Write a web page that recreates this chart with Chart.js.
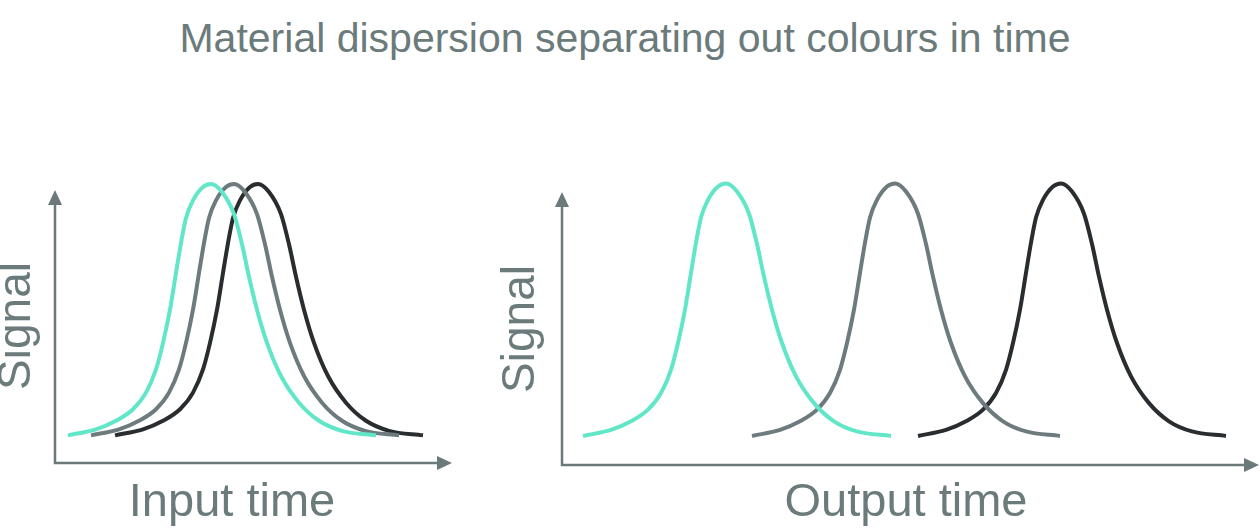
<!DOCTYPE html>
<html>
<head>
<meta charset="utf-8">
<script src="https://cdn.jsdelivr.net/npm/chart.js@4.4.1/dist/chart.umd.min.js"></script>
<style>
html,body{margin:0;padding:0;background:#ffffff;width:1260px;height:532px;overflow:hidden;position:relative;}
#title{position:absolute;left:0;top:18px;width:1250px;text-align:center;font-family:"Liberation Sans",Arial,sans-serif;font-size:41px;line-height:41px;color:#6b7a7b;white-space:nowrap;}
#inputChart{position:absolute;left:-10px;top:0;}
#outputChart{position:absolute;left:470px;top:0;}
</style>
</head>
<body>
<div id="title">Material dispersion separating out colours in time</div>
<canvas id="inputChart" width="470" height="532"></canvas>
<canvas id="outputChart" width="790" height="532"></canvas>
<script>
// Signal level of each pulse sample (same pulse shape for every colour)
const pulseSignal = [0, 0.024, 0.058, 0.104, 0.170, 0.262, 0.368, 0.500, 0.646, 0.765, 0.865, 0.935, 0.988, 1, 0.968, 0.880, 0.760, 0.631, 0.500, 0.368, 0.236, 0.130, 0.058, 0.018, 0];

// Input time samples (left panel)
const inputTimeCyan  = [1.3, 4.1, 6.1, 7.8, 9.1, 10.1, 10.8, 11.5, 12.1, 12.6, 13.1, 13.8, 14.8, 15.6, 16.7, 17.9, 18.7, 19.4, 20.2, 21.2, 22.6, 24.4, 26.4, 28.7, 32.1];
const inputTimeGrey  = [3.6, 6.4, 8.4, 10.1, 11.4, 12.4, 13.1, 13.8, 14.4, 14.9, 15.4, 16.1, 17.1, 17.9, 19.0, 20.2, 21.0, 21.7, 22.5, 23.5, 24.9, 26.7, 28.7, 31.0, 34.4];
const inputTimeBlack = [6.0, 8.8, 10.8, 12.5, 13.8, 14.8, 15.5, 16.2, 16.8, 17.3, 17.8, 18.5, 19.5, 20.3, 21.4, 22.6, 23.4, 24.1, 24.9, 25.9, 27.3, 29.1, 31.1, 33.4, 36.8];

// Output time samples (right panel)
const outputTimeCyan  = [2.1, 4.9, 6.9, 8.6, 9.9, 10.9, 11.6, 12.3, 12.9, 13.4, 13.9, 14.6, 15.6, 16.4, 17.5, 18.7, 19.5, 20.2, 21.0, 22.0, 23.4, 25.2, 27.2, 29.5, 32.9];
const outputTimeGrey  = [19.0, 21.8, 23.8, 25.5, 26.8, 27.8, 28.5, 29.2, 29.8, 30.3, 30.8, 31.5, 32.5, 33.3, 34.4, 35.6, 36.4, 37.1, 37.9, 38.9, 40.3, 42.1, 44.1, 46.4, 49.8];
const outputTimeBlack = [35.6, 38.4, 40.4, 42.1, 43.4, 44.4, 45.1, 45.8, 46.4, 46.9, 47.4, 48.1, 49.1, 49.9, 51.0, 52.2, 53.0, 53.7, 54.5, 55.5, 56.9, 58.7, 60.7, 63.0, 66.4];

// Labels
const mainTitle = 'Material dispersion separating out colours in time';
const yLabel = 'Signal';
const inputLabel = 'Input time';
const outputLabel = 'Output time';

const COL_CYAN = '#62e6c8';
const COL_GREY = '#6e7b7e';
const COL_BLACK = '#2a2d2f';
const COL_AXIS = '#6b797a';
const COL_TEXT = '#6b7a7b';
const FONT = '"Liberation Sans", Arial, Helvetica, sans-serif';

Chart.defaults.font.family = FONT;

function series(times, color) {
  return {
    data: times.map((t, i) => ({x: t, y: pulseSignal[i]})),
    borderColor: color,
    backgroundColor: color,
    borderWidth: 4,
    pointRadius: 0,
    pointHoverRadius: 0,
    fill: false,
    cubicInterpolationMode: 'monotone',
    clip: false,
    borderCapStyle: 'butt'
  };
}

const axisArrows = {
  id: 'axisArrows',
  beforeDatasetsDraw(chart, args, opts) {
    const {ctx, chartArea: a} = chart;
    const x0 = a.left, y0 = a.bottom;
    const topTip = a.top + opts.topOffset;
    const rightTip = a.right + opts.rightExtend;
    const L = 15, W = 7;
    ctx.save();
    ctx.strokeStyle = opts.color;
    ctx.fillStyle = opts.color;
    ctx.lineWidth = 2.5;
    ctx.lineJoin = 'miter';
    ctx.beginPath();
    ctx.moveTo(x0, topTip + L - 1);
    ctx.lineTo(x0, y0);
    ctx.lineTo(rightTip - L + 1, y0);
    ctx.stroke();
    ctx.beginPath();
    ctx.moveTo(x0, topTip);
    ctx.lineTo(x0 - W, topTip + L);
    ctx.lineTo(x0 + W, topTip + L);
    ctx.closePath();
    ctx.fill();
    ctx.beginPath();
    ctx.moveTo(rightTip, y0);
    ctx.lineTo(rightTip - L, y0 - W);
    ctx.lineTo(rightTip - L, y0 + W);
    ctx.closePath();
    ctx.fill();
    ctx.restore();
  }
};

function makeChart(id, datasets, cfg) {
  return new Chart(document.getElementById(id), {
    type: 'line',
    data: {datasets},
    plugins: [axisArrows],
    options: {
      responsive: false,
      animation: false,
      devicePixelRatio: 1,
      events: [],
      layout: {autoPadding: false, padding: cfg.padding},
      plugins: {
        legend: {display: false},
        tooltip: {enabled: false},
        title: {display: false},
        axisArrows: {color: COL_AXIS, topOffset: cfg.topOffset, rightExtend: cfg.rightExtend}
      },
      scales: {
        x: {
          type: 'linear', min: 0, max: cfg.xMax,
          grid: {display: false, drawTicks: false, tickLength: 0},
          border: {display: false},
          ticks: {display: false},
          title: {display: true, text: cfg.xLabel, color: COL_TEXT,
                  font: {size: 47, lineHeight: 1, family: FONT},
                  padding: {top: cfg.xTitlePadTop, bottom: 5}}
        },
        y: {
          type: 'linear', min: cfg.yMin, max: cfg.yMax,
          grid: {display: false, drawTicks: false, tickLength: 0},
          border: {display: false},
          ticks: {display: false},
          title: {display: true, text: yLabel, color: COL_TEXT,
                  font: {size: 46, lineHeight: 1, family: FONT},
                  padding: {top: 4, bottom: cfg.yTitlePadBottom}}
        }
      }
    }
  });
}

document.getElementById('title').textContent = mainTitle;

makeChart('inputChart', [
  series(inputTimeCyan, COL_CYAN),
  series(inputTimeGrey, COL_GREY),
  series(inputTimeBlack, COL_BLACK)
], {
  padding: {left: 0, top: 189, right: 51, bottom: 0},
  xMax: 35.4, yMin: -0.11, yMax: 0.98,
  xLabel: inputLabel, xTitlePadTop: 17, yTitlePadBottom: 15,
  topOffset: 1, rightExtend: 43
});

makeChart('outputChart', [
  series(outputTimeCyan, COL_CYAN),
  series(outputTimeGrey, COL_GREY),
  series(outputTimeBlack, COL_BLACK)
], {
  padding: {left: 24, top: 193, right: 10, bottom: 0},
  xMax: 68.8, yMin: -0.115, yMax: 0.962,
  xLabel: outputLabel, xTitlePadTop: 15, yTitlePadBottom: 18,
  topOffset: -1, rightExtend: 9
});
</script>
</body>
</html>
